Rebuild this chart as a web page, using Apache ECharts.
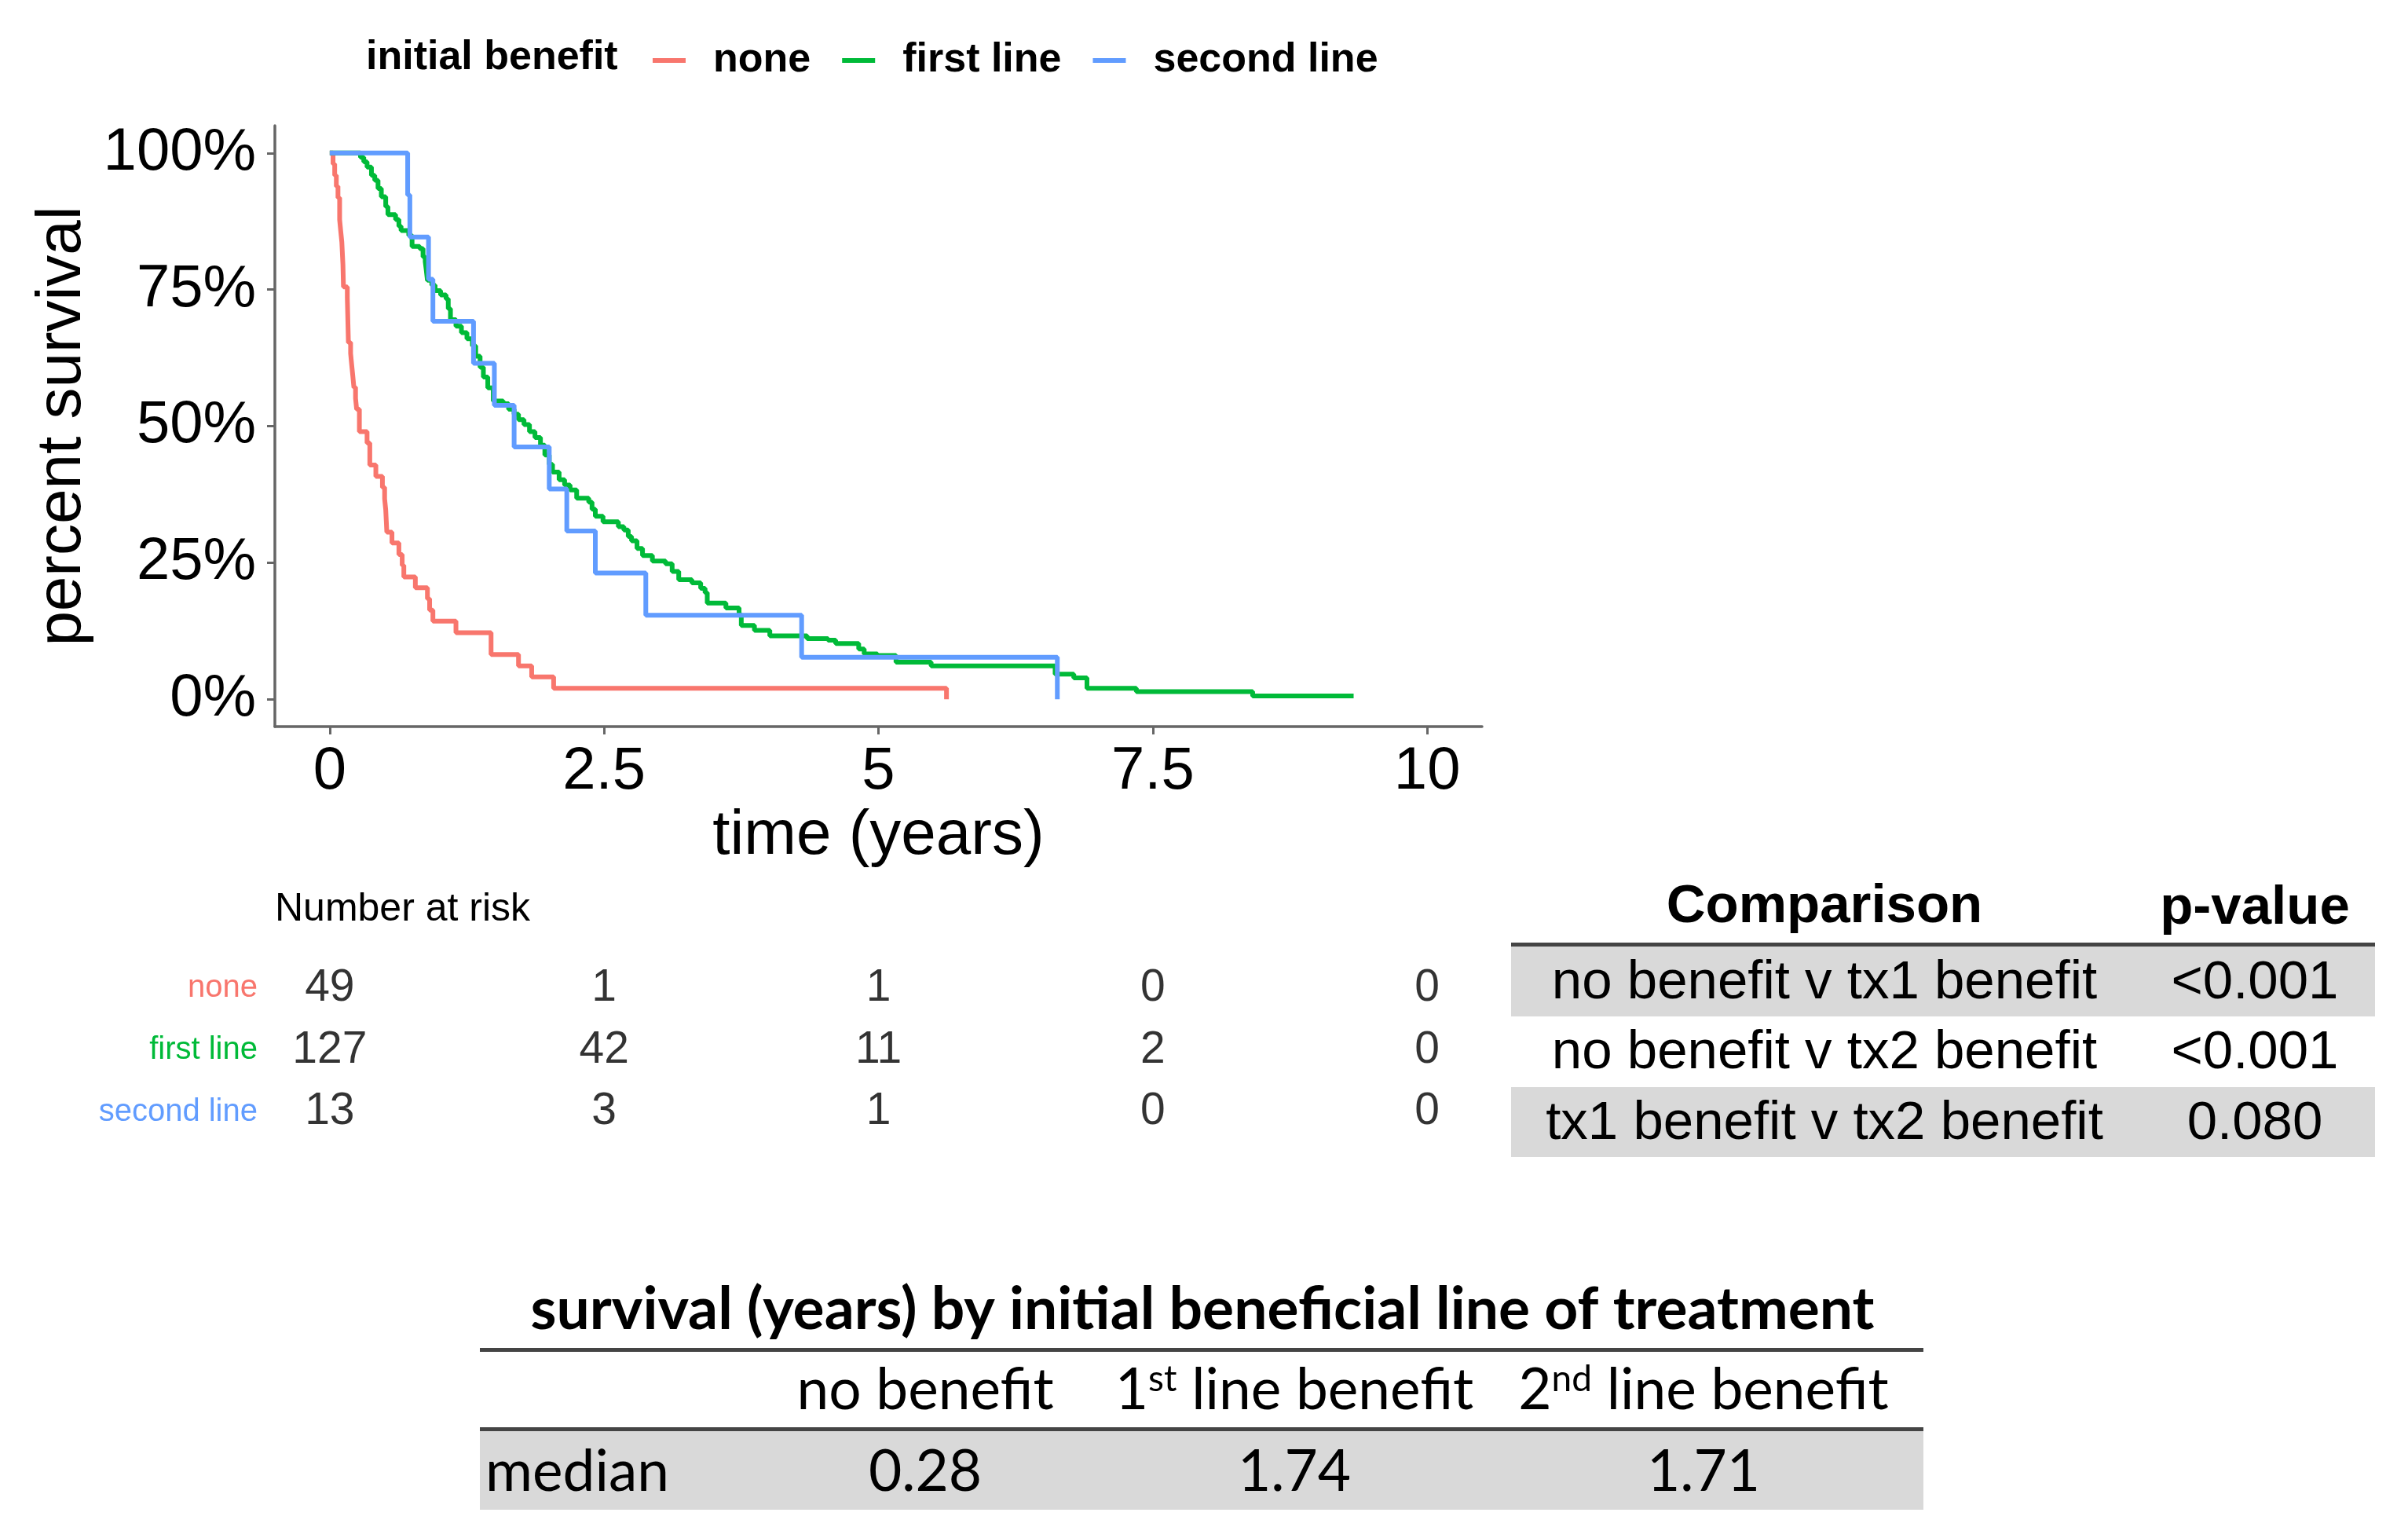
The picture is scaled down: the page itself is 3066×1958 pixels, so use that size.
<!DOCTYPE html>
<html>
<head>
<meta charset="utf-8">
<script src="https://cdn.jsdelivr.net/npm/echarts@6/dist/echarts.min.js"></script>
<style>
html,body{margin:0;padding:0;background:#fff;}
#chart{width:3066px;height:1958px;}
</style>
</head>
<body>
<div id="chart"></div>
<script>
// ---------------- data ----------------
const groups = ['none', 'first line', 'second line'];
const timeTicks = [0, 2.5, 5, 7.5, 10];
const survTicks = [0, 0.25, 0.5, 0.75, 1];

const noneTime = [0, 0.03, 0.045, 0.06, 0.075, 0.09, 0.10, 0.11, 0.12, 0.125, 0.16, 0.165, 0.17, 0.19, 0.20, 0.21, 0.22, 0.235, 0.245, 0.27, 0.34, 0.365, 0.42, 0.48, 0.50, 0.51, 0.515, 0.52, 0.567, 0.63, 0.66, 0.675, 0.78, 0.89, 0.91, 0.94, 1.15, 1.47, 1.72, 1.84, 2.04, 5.62];
const noneSurv = [1, 0.980, 0.959, 0.939, 0.918, 0.878, 0.857, 0.837, 0.796, 0.755, 0.735, 0.694, 0.653, 0.633, 0.612, 0.592, 0.571, 0.551, 0.531, 0.490, 0.469, 0.429, 0.408, 0.388, 0.367, 0.347, 0.327, 0.306, 0.286, 0.265, 0.245, 0.224, 0.204, 0.184, 0.163, 0.143, 0.122, 0.082, 0.061, 0.041, 0.020, 0];

const firstTime = [0, 0.28, 0.31, 0.34, 0.38, 0.41, 0.44, 0.47, 0.51, 0.53, 0.60, 0.63, 0.65, 0.72, 0.75, 0.82, 0.85, 0.87, 0.88, 0.89, 0.93, 0.96, 1.01, 1.06, 1.08, 1.10, 1.15, 1.20, 1.25, 1.30, 1.33, 1.37, 1.40, 1.44, 1.49, 1.58, 1.63, 1.68, 1.72, 1.77, 1.82, 1.87, 1.92, 1.96, 2.00, 2.03, 2.09, 2.14, 2.19, 2.25, 2.36, 2.39, 2.42, 2.49, 2.63, 2.68, 2.72, 2.75, 2.80, 2.85, 2.94, 3.06, 3.12, 3.18, 3.30, 3.38, 3.42, 3.44, 3.61, 3.73, 3.75, 3.87, 4.01, 4.35, 4.54, 4.61, 4.82, 4.87, 4.99, 5.16, 5.48, 6.61, 6.78, 6.90, 7.35, 8.41, 9.33];
const firstSurv = [1, 0.992, 0.984, 0.974, 0.959, 0.950, 0.935, 0.920, 0.902, 0.887, 0.878, 0.866, 0.858, 0.849, 0.829, 0.825, 0.810, 0.801, 0.785, 0.767, 0.758, 0.748, 0.740, 0.733, 0.715, 0.695, 0.683, 0.671, 0.660, 0.647, 0.628, 0.608, 0.590, 0.570, 0.546, 0.541, 0.531, 0.522, 0.512, 0.503, 0.490, 0.479, 0.465, 0.447, 0.430, 0.416, 0.402, 0.392, 0.383, 0.368, 0.361, 0.348, 0.335, 0.325, 0.316, 0.310, 0.298, 0.290, 0.276, 0.263, 0.253, 0.248, 0.234, 0.219, 0.213, 0.203, 0.195, 0.176, 0.167, 0.155, 0.135, 0.126, 0.116, 0.111, 0.108, 0.102, 0.092, 0.083, 0.080, 0.068, 0.061, 0.046, 0.039, 0.020, 0.014, 0.006, 0.006];

const secondTime = [0, 0.71, 0.73, 0.90, 0.94, 1.31, 1.50, 1.68, 2.00, 2.16, 2.42, 2.88, 4.30, 6.63];
const secondSurv = [1, 0.923, 0.846, 0.769, 0.692, 0.615, 0.538, 0.462, 0.385, 0.308, 0.231, 0.154, 0.077, 0];

const riskNone = [49, 1, 1, 0, 0];
const riskFirst = [127, 42, 11, 2, 0];
const riskSecond = [13, 3, 1, 0, 0];

const comparisons = ['no benefit v tx1 benefit', 'no benefit v tx2 benefit', 'tx1 benefit v tx2 benefit'];
const pValues = ['<0.001', '<0.001', '0.080'];

const medianGroups = ['no benefit', '1st line benefit', '2nd line benefit'];
const medianValues = ['0.28', '1.74', '1.71'];

// ---------------- build ----------------
const colors = ['#F8766D', '#00BA38', '#619CFF'];
const AR = 'Liberation Sans, Arial, sans-serif';
const CAL = 'Lato, Open Sans, sans-serif';

function zip(t, s) { return t.map((v, i) => [v, s[i]]); }
const curves = [zip(noneTime, noneSurv), zip(firstTime, firstSurv), zip(secondTime, secondSurv)];
const risks = [riskNone, riskFirst, riskSecond];

const series = curves.map((d, i) => ({
  name: groups[i], type: 'line', step: 'end', data: d,
  xAxisIndex: 0, yAxisIndex: 0,
  showSymbol: false, symbol: 'none',
  lineStyle: { color: colors[i], width: 6 },
  itemStyle: { color: colors[i] },
  z: 2 + i
}));

risks.forEach((r, i) => {
  series.push({
    type: 'scatter', xAxisIndex: 1, yAxisIndex: 1,
    symbolSize: 1, itemStyle: { color: 'rgba(0,0,0,0)' },
    data: r.map((v, j) => [timeTicks[j], groups[i], v]),
    label: { show: true, position: 'inside', formatter: p => String(p.value[2]), fontSize: 57, color: '#000', fontFamily: AR },
    silent: true
  });
});

const graphic = [];
// legend title
graphic.push({ type: 'text', left: 466, top: 48, style: { text: 'initial benefit', font: 'bold 52px ' + AR, fill: '#000' } });
// number at risk
graphic.push({ type: 'text', left: 350, top: 1133, style: { text: 'Number at risk', font: '50px ' + AR, fill: '#000' } });

// comparison table
const cL = 1924, cR = 3024, cMid = 2323, pMid = 2871;
graphic.push({ type: 'text', x: cMid, y: 1155, style: { text: 'Comparison', font: 'bold 69px ' + AR, fill: '#000', align: 'center', verticalAlign: 'middle' } });
graphic.push({ type: 'text', x: pMid, y: 1157, style: { text: 'p-value', font: 'bold 69px ' + AR, fill: '#000', align: 'center', verticalAlign: 'middle' } });
graphic.push({ type: 'rect', shape: { x: cL, y: 1200, width: cR - cL, height: 5 }, style: { fill: '#444' } });
const rowTops = [1205, 1294, 1384];
const rowH = 89;
comparisons.forEach((c, i) => {
  if (i % 2 === 0) graphic.push({ type: 'rect', shape: { x: cL, y: rowTops[i], width: cR - cL, height: rowH }, style: { fill: '#D9D9D9' } });
  graphic.push({ type: 'text', x: cMid, y: rowTops[i] + rowH / 2 + 2, style: { text: c, font: '69px ' + AR, fill: '#000', align: 'center', verticalAlign: 'middle' } });
  graphic.push({ type: 'text', x: pMid, y: rowTops[i] + rowH / 2 + 2, style: { text: pValues[i], font: '69px ' + AR, fill: '#000', align: 'center', verticalAlign: 'middle' } });
});

// bottom table
const bL = 611, bR = 2449;
const colX = [1178, 1648, 2169];
graphic.push({ type: 'text', x: 1531, y: 1668, style: { text: 'survival (years) by initial beneficial line of treatment', font: 'bold 75px ' + CAL, fill: '#000', align: 'center', verticalAlign: 'middle' } });
graphic.push({ type: 'rect', shape: { x: bL, y: 1716, width: bR - bL, height: 5 }, style: { fill: '#444' } });
medianGroups.forEach((g, i) => {
  const txt = g.replace(/^(\d)(st|nd|rd|th)/, '$1{sup|$2}');
  graphic.push({ type: 'text', x: colX[i], y: 1770, style: { text: txt, font: '73px ' + CAL, fill: '#000', align: 'center', verticalAlign: 'middle',
    rich: { sup: { fontSize: 46, fontFamily: CAL, verticalAlign: 'top', lineHeight: 73 } } } });
});
graphic.push({ type: 'rect', shape: { x: bL, y: 1817, width: bR - bL, height: 5 }, style: { fill: '#444' } });
graphic.push({ type: 'rect', shape: { x: bL, y: 1822, width: bR - bL, height: 100 }, style: { fill: '#D9D9D9' } });
graphic.push({ type: 'text', x: 618, y: 1874, style: { text: 'median', font: '73px ' + CAL, fill: '#000', align: 'left', verticalAlign: 'middle' } });
medianValues.forEach((v, i) => {
  graphic.push({ type: 'text', x: colX[i], y: 1874, style: { text: v, font: '73px ' + CAL, fill: '#000', align: 'center', verticalAlign: 'middle' } });
});

const axisColor = '#666';
const option = {
  animation: false,
  backgroundColor: '#ffffff',
  legend: {
    data: groups, left: 826, top: 46, icon: 'rect', itemWidth: 42, itemHeight: 6, itemGap: 40,
    textStyle: { fontSize: 52, fontWeight: 'bold', color: '#000', fontFamily: AR, padding: [0, 0, 0, 30] }
  },
  grid: [
    { left: 350, top: 160, width: 1537, height: 765 },
    { left: 350, top: 1219, width: 1537, height: 236 }
  ],
  xAxis: [
    {
      type: 'value', gridIndex: 0, min: -0.5, max: 10.5,
      axisLine: { show: true, onZero: false, lineStyle: { color: axisColor, width: 3.5 } },
      axisTick: { show: true, length: 10, customValues: timeTicks, lineStyle: { color: axisColor, width: 3 } },
      axisLabel: { customValues: timeTicks, formatter: v => String(v), fontSize: 76, color: '#000', fontFamily: AR, margin: 20 },
      splitLine: { show: false },
      name: 'time (years)', nameLocation: 'middle', nameGap: 100,
      nameTextStyle: { fontSize: 80, color: '#000', fontFamily: AR }
    },
    { type: 'value', gridIndex: 1, min: -0.5, max: 10.5, show: false }
  ],
  yAxis: [
    {
      type: 'value', gridIndex: 0, min: -0.05, max: 1.05,
      axisLine: { show: true, onZero: false, lineStyle: { color: axisColor, width: 3.5 } },
      axisTick: { show: true, length: 10, customValues: survTicks, lineStyle: { color: axisColor, width: 3 } },
      axisLabel: { customValues: survTicks, formatter: v => Math.round(v * 100) + '%', fontSize: 76, color: '#000', fontFamily: AR, margin: 24 },
      splitLine: { show: false },
      name: 'percent survival', nameLocation: 'middle', nameGap: 230, nameRotate: 90,
      nameTextStyle: { fontSize: 80, color: '#000', fontFamily: AR }
    },
    {
      type: 'category', gridIndex: 1, data: groups, inverse: true,
      axisLine: { show: false }, axisTick: { show: false }, splitLine: { show: false },
      axisLabel: { fontSize: 40, margin: 22, fontFamily: AR, color: (v, i) => colors[groups.indexOf(v)] }
    }
  ],
  graphic: graphic,
  series: series
};

const chart = echarts.init(document.getElementById('chart'), null, { renderer: 'canvas' });
chart.setOption(option);
</script>
</body>
</html>
